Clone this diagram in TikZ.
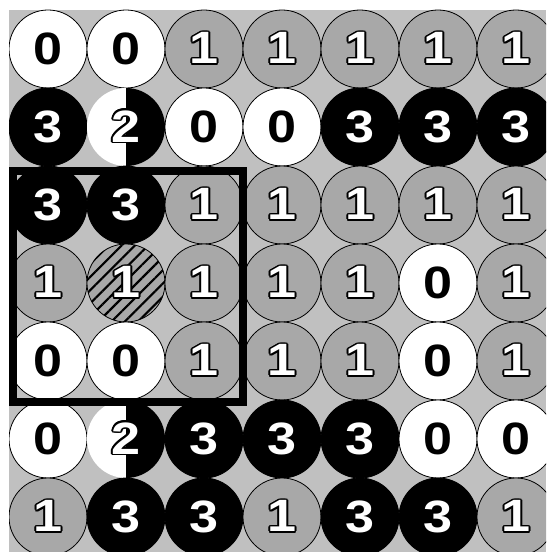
\documentclass[tikz,border=0pt]{standalone}
\usepackage{fontspec}
\usepackage{contour}
\usepackage{tikz}
\usetikzlibrary{patterns.meta}
\newfontfamily\digitfont[FakeStretch=1.15]{Liberation Sans}
\definecolor{boardgray}{RGB}{192,192,192}
\definecolor{stonegray}{RGB}{168,168,168}
\contourlength{1.2pt}
\newcommand{\outl}[1]{\contour{black}{\textcolor{white}{#1}}}

\begin{document}
\begin{tikzpicture}[x=0.75pt,y=-0.75pt,
    cell/.style={circle,minimum size=58.5pt,inner sep=0pt,draw=black,line width=0.6pt,
      font=\digitfont\bfseries\fontsize{34}{34}\selectfont},
    v0/.style={cell,fill=white,text=black},
    v1/.style={cell,fill=stonegray},
    v2/.style={cell,draw=none},
    v3/.style={cell,fill=black,text=white},
    v4/.style={cell,preaction={fill=stonegray},
      pattern={Lines[angle=45,distance=7pt,line width=1.6pt]},pattern color=black}]
  \useasboundingbox (0,0) rectangle (546,552);
  \fill[boardgray] (9,10) rectangle (546,552);
  \begin{scope}
    \clip (9,10) rectangle (546,552);
    \foreach \vals [count=\r from 0] in {{0,0,1,1,1,1,1},{3,2,0,0,3,3,3},{3,3,1,1,1,1,1},
        {1,4,1,1,1,0,1},{0,0,1,1,1,0,1},{0,2,3,3,3,0,0},{1,3,3,1,3,3,1}}
      \foreach \v [count=\c from 0] in \vals {
        \ifnum\v=2\relax
          \fill[white] (48+78*\c,10+78*\r) arc[start angle=270,end angle=90,radius=39] -- cycle;
          \fill[black] (48+78*\c,10+78*\r) arc[start angle=270,end angle=450,radius=39] -- cycle;
        \fi
        \node[v\v] (c\r\c) at (48+78*\c,49+78*\r)
          {\ifcase\v\relax 0\or\outl{1}\or\outl{2}\or 3\or\outl{1}\fi};
      }
  \end{scope}
  % window round the marked stone
  \draw[line width=6pt] (13,171) rectangle (243,402);
\end{tikzpicture}
\end{document}
